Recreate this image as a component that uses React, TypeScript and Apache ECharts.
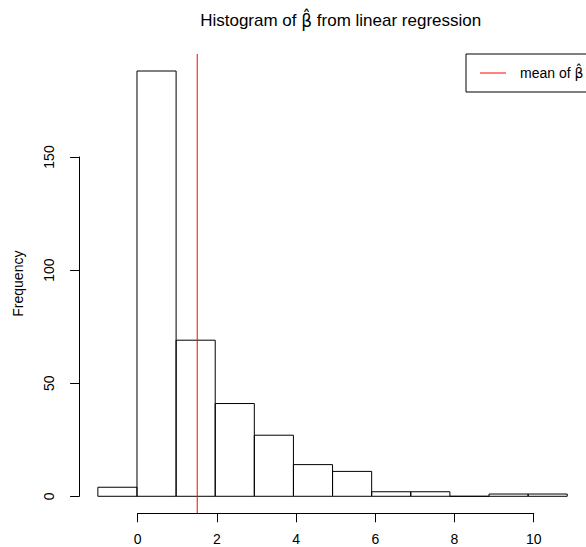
import React, { useEffect, useRef } from "react";
import * as echarts from "echarts";

// Histogram breaks and counts
const breaks = [-1, 0, 1, 2, 3, 4, 5, 6, 7, 8, 9, 10, 11];
const counts = [4, 188, 69, 41, 27, 14, 11, 2, 2, 0, 1, 1];
const meanBeta = 1.54;
const xTicks = [0, 2, 4, 6, 8, 10];
const yTicks = [0, 50, 100, 150];

const FONT = "Liberation Sans, Arial, Helvetica, sans-serif";
const BETA_FONT = "DejaVu Sans, Noto Sans, sans-serif";
const betaHat = "\u03B2\u0302";
const legendText = "mean of " + betaHat;
const RED = "#ff0000";

export default function App() {
  const ref = useRef<HTMLDivElement>(null);
  useEffect(() => {
    if (!ref.current) return;
    const chart = echarts.init(ref.current, null, { renderer: "svg" });
    const bins = counts.map((c, i) => [breaks[i], breaks[i + 1], c]);
    const span = breaks[breaks.length - 1] - breaks[0];
    const xMin = breaks[0] - 0.04 * span;
    const xMax = breaks[breaks.length - 1] + 0.04 * span;
    const yTop = Math.max(...counts);
    const yMin = -0.04 * yTop;
    const yMax = yTop * 1.04;
    chart.setOption({
      animation: false,
      title: {
        text: "Histogram of {b|" + betaHat + "} from linear regression",
        left: 335.7,
        top: 7,
        textAlign: "center",
        textStyle: {
          fontFamily: FONT,
          fontSize: 17,
          fontWeight: "normal",
          color: "#000",
          rich: {
            b: { fontFamily: BETA_FONT, fontSize: 17, color: "#000" },
          },
        },
      },
      legend: {
        data: [{ name: legendText, icon: "rect", itemStyle: { color: RED } }],
        left: 466,
        top: 54,
        orient: "horizontal",
        padding: [12, 10, 12, 14],
        itemWidth: 26,
        itemHeight: 1,
        borderColor: "#000",
        borderWidth: 1,
        borderRadius: 0,
        formatter: () => "mean of {b|" + betaHat + "}",
        textStyle: {
          fontFamily: FONT,
          fontSize: 14,
          color: "#000",
          padding: [0, 0, 0, 9],
          rich: {
            b: { fontFamily: BETA_FONT, fontSize: 14, color: "#000" },
          },
        },
      },
      grid: [
        { left: 79.1, width: 513.2, top: 54, height: 459.3 },
        { left: 137.7, width: 396, top: 512.3, height: 1 },
        { left: 79.1, width: 1, top: 157, height: 339.3 },
      ],
      xAxis: [
        { gridIndex: 0, type: "value", min: xMin, max: xMax, show: false },
        {
          gridIndex: 1,
          type: "value",
          min: xTicks[0],
          max: xTicks[xTicks.length - 1],
          interval: xTicks[1] - xTicks[0],
          axisLine: { show: true, lineStyle: { color: "#000", width: 1 } },
          axisTick: { show: true, length: 9, lineStyle: { color: "#000" } },
          axisLabel: { fontFamily: FONT, fontSize: 14, color: "#000", margin: 19 },
          splitLine: { show: false },
        },
        { gridIndex: 2, type: "value", show: false, min: 0, max: 1 },
      ],
      yAxis: [
        {
          gridIndex: 0,
          type: "value",
          min: yMin,
          max: yMax,
          axisLine: { show: false },
          axisTick: { show: false },
          axisLabel: { show: false },
          splitLine: { show: false },
          name: "Frequency",
          nameLocation: "middle",
          nameGap: 54,
          nameTextStyle: { fontFamily: FONT, fontSize: 14, color: "#000" },
        },
        { gridIndex: 1, type: "value", show: false, min: 0, max: 1 },
        {
          gridIndex: 2,
          type: "value",
          min: yTicks[0],
          max: yTicks[yTicks.length - 1],
          interval: yTicks[1] - yTicks[0],
          axisLine: { show: true, lineStyle: { color: "#000", width: 1 } },
          axisTick: { show: true, length: 9, lineStyle: { color: "#000" } },
          axisLabel: { fontFamily: FONT, fontSize: 14, color: "#000", margin: 23, rotate: 90 },
          splitLine: { show: false },
        },
      ],
      series: [
        {
          type: "custom",
          xAxisIndex: 0,
          yAxisIndex: 0,
          data: bins,
          encode: { x: [0, 1], y: 2 },
          renderItem: (params: any, api: any) => {
            const p0 = api.coord([api.value(0), 0]);
            const p1 = api.coord([api.value(1), api.value(2)]);
            return {
              type: "rect",
              shape: { x: p0[0], y: p1[1], width: p1[0] - p0[0], height: p0[1] - p1[1] },
              style: { fill: "none", stroke: "#000", lineWidth: 1 },
            };
          },
        },
        {
          type: "line",
          name: legendText,
          xAxisIndex: 0,
          yAxisIndex: 0,
          data: [
            [meanBeta, yMin],
            [meanBeta, yMax],
          ],
          symbol: "none",
          color: RED,
          itemStyle: { color: RED },
          lineStyle: { color: RED, width: 1 },
          silent: true,
          z: 5,
        },
      ],
    });
    return () => chart.dispose();
  }, []);
  return (
    <div
      ref={ref}
      style={{ position: "fixed", left: 0, top: 0, width: 586, height: 547, background: "#fff" }}
    />
  );
}
